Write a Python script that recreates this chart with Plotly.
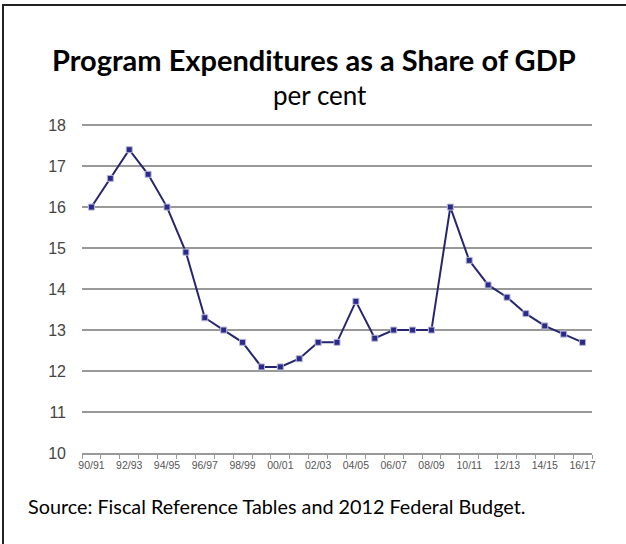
import plotly.graph_objects as go

years = ["90/91","91/92","92/93","93/94","94/95","95/96","96/97","97/98","98/99","99/00",
         "00/01","01/02","02/03","03/04","04/05","05/06","06/07","07/08","08/09","09/10",
         "10/11","11/12","12/13","13/14","14/15","15/16","16/17"]
share = [16.0,16.7,17.4,16.8,16.0,14.9,13.3,13.0,12.7,12.1,
         12.1,12.3,12.7,12.7,13.7,12.8,13.0,13.0,13.0,16.0,
         14.7,14.1,13.8,13.4,13.1,12.9,12.7]
y_ticks = [10,11,12,13,14,15,16,17,18]

W, H = 626, 544
L, R, T, B = 82, 34, 121, 91
pw, ph = W - L - R, H - T - B

def px(x):
    return (x - L) / pw

def py(y):
    return (H - B - y) / ph

xs = list(range(len(years)))

fig = go.Figure()
fig.add_trace(go.Scatter(
    x=xs, y=share, mode="lines+markers",
    line=dict(color="#26266e", width=2),
    marker=dict(symbol="square", size=6, color="#2a2a8a",
                line=dict(color="#b8b8d8", width=1)),
    hoverinfo="skip", showlegend=False,
))

axisfont = "Liberation Sans, Arial"
body = "Lato, Open Sans, sans-serif"

fig.update_layout(
    width=W, height=H,
    margin=dict(l=L, r=R, t=T, b=B),
    paper_bgcolor="white", plot_bgcolor="white",
    xaxis=dict(
        range=[-0.5, len(years) - 0.5],
        tickmode="array", tickvals=xs[::2], ticktext=years[::2],
        ticks="", showgrid=False, zeroline=False,
        showline=True, linecolor="#999999", linewidth=1.5,
        ticklabelstandoff=2,
        tickfont=dict(family=axisfont, size=10.5, color="#555555"),
        minor=dict(tickmode="array", tickvals=[i - 0.5 for i in range(len(years) + 1)],
                   ticks="outside", ticklen=4, tickcolor="#999999", tickwidth=1, showgrid=False),
        fixedrange=True,
    ),
    yaxis=dict(
        range=[10, 18.1], tickmode="array", tickvals=y_ticks,
        showgrid=True, gridcolor="#999999", gridwidth=1.5,
        zeroline=False, showline=False, ticks="",
        ticklabelstandoff=15,
        tickfont=dict(family=axisfont, size=16, color="#444444"),
        fixedrange=True,
    ),
)

fig.add_annotation(text="<b>Program Expenditures as a Share of GDP</b>",
                   xref="paper", yref="paper", x=px(314), y=py(60),
                   xanchor="center", yanchor="middle", showarrow=False,
                   font=dict(family=body, size=29, color="black"))
fig.add_annotation(text="per cent",
                   xref="paper", yref="paper", x=px(320), y=py(95),
                   xanchor="center", yanchor="middle", showarrow=False,
                   font=dict(family=body, size=26, color="black"))
fig.add_annotation(text="Source: Fiscal Reference Tables and 2012 Federal Budget.",
                   xref="paper", yref="paper", x=px(26), y=py(506),
                   xanchor="left", yanchor="middle", showarrow=False,
                   font=dict(family=body, size=19.8, color="black"))

fig.add_shape(type="rect", xref="paper", yref="paper",
              x0=px(3), x1=px(640), y0=py(560), y1=py(5),
              line=dict(color="#222222", width=2), fillcolor="rgba(0,0,0,0)", layer="above")

fig.write_html("out.html", config={"displayModeBar": False},
               post_script="document.body.style.margin='0';")
